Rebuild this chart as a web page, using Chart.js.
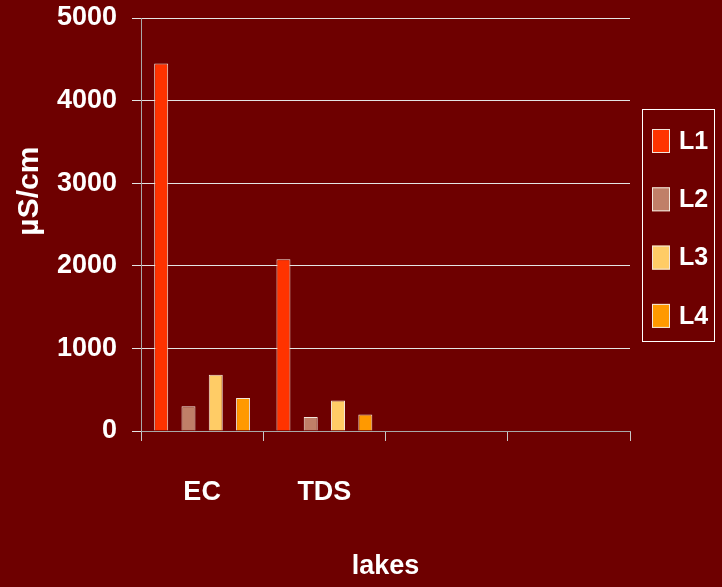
<!DOCTYPE html>
<html>
<head>
<meta charset="utf-8">
<script src="https://cdn.jsdelivr.net/npm/chart.js@4"></script>
<style>
body{margin:0;background:#6e0000;}
canvas{display:block;}
</style>
</head>
<body>
<canvas id="myChart" width="722" height="587"></canvas>
<script>
const categories = ["EC", "TDS", "", ""];
const seriesNames = ["L1", "L2", "L3", "L4"];
const L1 = [4450, 2080, null, null];
const L2 = [300, 170, null, null];
const L3 = [680, 370, null, null];
const L4 = [400, 200, null, null];
const barColors = ["#ff3300", "#c07f68", "#ffcc66", "#ff9900"];
const yTicks = [0, 1000, 2000, 3000, 4000, 5000];

const sans = '"Liberation Sans", Arial, sans-serif';

// legend drawn in a framed box at the right, like the original slide
const legendFrame = {
  id: 'legendFrame',
  afterDraw(chart) {
    const ctx = chart.ctx;
    const left = chart.chartArea.right + 12, top = 109, rowH = 58.3;
    ctx.save();
    ctx.strokeStyle = '#ffffff';
    ctx.lineWidth = 1;
    ctx.strokeRect(left + 0.5, top + 0.5, 72, 232);
    ctx.font = 'bold 25px ' + sans;
    ctx.textBaseline = 'middle';
    chart.data.datasets.forEach(function(ds, i){
      const y = top + 20 + i * rowH;
      ctx.fillStyle = ds.backgroundColor;
      ctx.fillRect(left + 10, y, 18, 24);
      ctx.strokeStyle = ds.borderColor;
      ctx.strokeRect(left + 10.5, y + 0.5, 17, 23);
      ctx.fillStyle = '#ffffff';
      ctx.fillText(ds.label, left + 37, y + 13);
    });
    ctx.restore();
  }
};

const values = [L1, L2, L3, L4];

new Chart("myChart", {
  type: "bar",
  data: {
    labels: categories,
    datasets: seriesNames.map(function(name, i){
      return {
        label: name,
        data: values[i],
        backgroundColor: barColors[i],
        borderColor: "#f3e6dc",
        borderWidth: 1,
        categoryPercentage: 0.893,
        barPercentage: 0.513
      };
    })
  },
  options: {
    responsive: false,
    animation: false,
    layout: {padding: {top: 0, right: 92, bottom: 0, left: 0}},
    plugins: {
      legend: {display: false},
      tooltip: {enabled: false}
    },
    scales: {
      x: {
        grid: {drawOnChartArea: false, offset: true, tickLength: 10, color: "#c8c8c8"},
        border: {color: "#a8a8a8"},
        ticks: {color: "#ffffff", padding: 35, font: {family: sans, size: 27, weight: "bold"}},
        title: {display: true, text: "lakes", color: "#ffffff", padding: {top: 0, bottom: 4},
          font: {family: sans, size: 27, weight: "bold"}},
        afterFit: function(scale){ scale.height = 156; }
      },
      y: {
        min: 0,
        max: 5000,
        afterBuildTicks: function(scale){ scale.ticks = yTicks.map(function(v){ return {value: v}; }); },
        grid: {tickLength: 9, color: "#e4e4e4"},
        border: {color: "#a8a8a8"},
        ticks: {color: "#ffffff", padding: 15, font: {family: sans, size: 27, weight: "bold"},
          callback: function(v){ return String(v); }},
        title: {display: true, text: "        µS/cm", color: "#ffffff", padding: {top: 12, bottom: 0},
          font: {family: sans, size: 30, weight: "bold"}},
        afterFit: function(scale){ scale.width = 141; scale.paddingTop = 18; scale.paddingBottom = 0; }
      }
    }
  },
  plugins: [legendFrame]
});
</script>
</body>
</html>
